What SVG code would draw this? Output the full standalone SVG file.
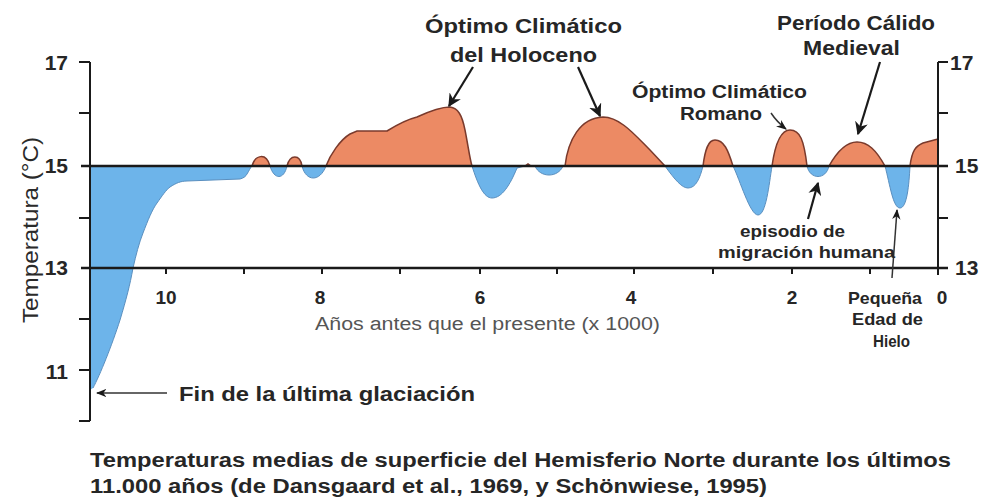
<svg xmlns="http://www.w3.org/2000/svg" width="988" height="500" viewBox="0 0 988 500">
<style>
.t{font-family:"Liberation Sans",Arial,sans-serif;font-weight:bold;fill:#262626}
.n{font-family:"Liberation Sans",Arial,sans-serif;fill:#555}
.ax{stroke:#1a1a1a;stroke-width:2;fill:none}
.hl{stroke:#1a1a1a;stroke-width:2.5;fill:none}
.ar{stroke:#1a1a1a;stroke-width:2.2;fill:none;marker-end:url(#ah)}
.ar1{stroke:#333;stroke-width:1.5;fill:none;marker-end:url(#ah2)}
</style>
<defs>
<marker id="ah" viewBox="0 0 10 10" refX="9" refY="5" markerWidth="6" markerHeight="6" orient="auto" markerUnits="strokeWidth">
<path d="M0,0 L10,5 L0,10 L3,5 Z" fill="#1a1a1a"/>
</marker>
<marker id="ah2" viewBox="0 0 10 10" refX="9" refY="5" markerWidth="7" markerHeight="7" orient="auto" markerUnits="strokeWidth">
<path d="M0,1 L10,5 L0,9 L3,5 Z" fill="#1a1a1a"/>
</marker>
<clipPath id="above"><rect x="0" y="0" width="988" height="166"/></clipPath>
<clipPath id="below"><rect x="0" y="166" width="988" height="334"/></clipPath>
<path id="area" d="M90,166 L90,390 L93,388 C100,375 112,345 120,320 C126,300 130,285 133,268 C136,255 139,243 143,233 C148,220 152,210 157,203 C162,196 166,190 170,187 C176,183 181,181 187,181 L240,179 C244,178 246,176 247,174 C249,171 250,168 252,166 C255,155 266,152 270,166 C274,180 284,180 287,166 C290,154 300,154 302,166 C306,182 320,182 326,166 C330,155 340,140 350,134 L357,131 L387,131 C395,126 405,120 417,117 C430,111 440,107 450,107 C458,108 462,115 465,130 C468,145 470,160 472,166 C478,185 484,198 492,198 C502,198 510,185 517,168 L525,166 L528,164 L531,166 L535,166 C540,178 558,178 563,166 L565,166 C568,140 580,118 603,117 C620,117 635,135 650,150 L665,166 C675,180 682,188 688,188 C696,188 700,178 703,166 C705,150 708,140 715,140 C724,140 728,150 733,166 C740,180 750,215 758,215 C766,215 769,185 772,166 C775,145 780,130 790,130 C800,130 804,140 807,166 C810,180 826,180 829,166 C838,150 848,142 857,142 C868,142 876,150 885,166 C890,185 893,208 900,208 C907,208 909,185 910,166 C912,150 916,146 923,143 L938,139 L938,166 Z"/>
<path id="curve" d="M93,388 C100,375 112,345 120,320 C126,300 130,285 133,268 C136,255 139,243 143,233 C148,220 152,210 157,203 C162,196 166,190 170,187 C176,183 181,181 187,181 L240,179 C244,178 246,176 247,174 C249,171 250,168 252,166 C255,155 266,152 270,166 C274,180 284,180 287,166 C290,154 300,154 302,166 C306,182 320,182 326,166 C330,155 340,140 350,134 L357,131 L387,131 C395,126 405,120 417,117 C430,111 440,107 450,107 C458,108 462,115 465,130 C468,145 470,160 472,166 C478,185 484,198 492,198 C502,198 510,185 517,168 L525,166 L528,164 L531,166 L535,166 C540,178 558,178 563,166 L565,166 C568,140 580,118 603,117 C620,117 635,135 650,150 L665,166 C675,180 682,188 688,188 C696,188 700,178 703,166 C705,150 708,140 715,140 C724,140 728,150 733,166 C740,180 750,215 758,215 C766,215 769,185 772,166 C775,145 780,130 790,130 C800,130 804,140 807,166 C810,180 826,180 829,166 C838,150 848,142 857,142 C868,142 876,150 885,166 C890,185 893,208 900,208 C907,208 909,185 910,166 C912,150 916,146 923,143 L938,139"/>
</defs>
<rect width="988" height="500" fill="#fff"/>

<g id="temperature-curve">
<use href="#area" fill="#EC8A64" clip-path="url(#above)"/>
<use href="#area" fill="#6DB4EA" clip-path="url(#below)"/>
<use href="#curve" fill="none" stroke="#7a3a2c" stroke-width="1.5" clip-path="url(#above)"/>
<use href="#curve" fill="none" stroke="#5a8fbf" stroke-width="1" clip-path="url(#below)"/>
</g>

<g id="axes">
<path class="ax" d="M90,62 V421 M79,62 H90 M79,113 H90 M79,218 H90 M79,319 H90 M79,370 H90 M79,421 H90"/>
<path class="ax" d="M938,62 V275 M938,62 H948 M938,113 H948 M938,218 H948"/>
<path class="hl" d="M81,166 H948 M81,268 H948"/>
<path class="ax" d="M166,268 v6 M244,268 v6 M322,268 v6 M400,268 v6 M480,268 v6 M557,268 v6 M634,268 v6 M713,268 v6 M792,268 v6 M870,268 v6"/>
</g>

<g id="axis-labels">
<text class="t" x="68" y="70" font-size="21" text-anchor="end">17</text>
<text class="t" x="68" y="173" font-size="21" text-anchor="end">15</text>
<text class="t" x="68" y="275" font-size="21" text-anchor="end">13</text>
<text class="t" x="68" y="379" font-size="21" text-anchor="end">11</text>
<text class="t" x="950" y="70" font-size="21">17</text>
<text class="t" x="955" y="173" font-size="21">15</text>
<text class="t" x="955" y="275" font-size="21">13</text>
<text class="t" x="166" y="304" font-size="19" text-anchor="middle">10</text>
<text class="t" x="320" y="304" font-size="19" text-anchor="middle">8</text>
<text class="t" x="480" y="304" font-size="19" text-anchor="middle">6</text>
<text class="t" x="631" y="304" font-size="19" text-anchor="middle">4</text>
<text class="t" x="792" y="304" font-size="19" text-anchor="middle">2</text>
<text class="t" x="942" y="304" font-size="19" text-anchor="middle">0</text>
<text class="n" x="315" y="330" font-size="18" textLength="345" lengthAdjust="spacingAndGlyphs">Años antes que el presente (x 1000)</text>
<text class="n" transform="translate(38,323) rotate(-90)" font-size="22" style="fill:#2a2a2a" textLength="186" lengthAdjust="spacingAndGlyphs">Temperatura (°C)</text>
</g>

<g id="connectors">
<path class="ar1" d="M167,393 H97"/>
<path class="ar" d="M473,67 L449,106"/>
<path class="ar" d="M578,67 L600,116"/>
<path class="ar1" d="M771,113 Q777,122 786,129"/>
<path class="ar" d="M880,62 L858,134"/>
<path class="ar" d="M808,219 L818,183"/>
<path class="ar1" d="M892,278 L897,210"/>
</g>

<g id="label-glaciacion">
<text class="t" x="179" y="401" font-size="20" textLength="296" lengthAdjust="spacingAndGlyphs">Fin de la última glaciación</text>
</g>
<g id="label-holoceno">
<text class="t" x="425" y="33" font-size="20" textLength="197" lengthAdjust="spacingAndGlyphs">Óptimo Climático</text>
<text class="t" x="450" y="62" font-size="20" textLength="147" lengthAdjust="spacingAndGlyphs">del Holoceno</text>
</g>
<g id="label-romano">
<text class="t" x="632" y="98" font-size="18" textLength="175" lengthAdjust="spacingAndGlyphs">Óptimo Climático</text>
<text class="t" x="680" y="120" font-size="18" textLength="82" lengthAdjust="spacingAndGlyphs">Romano</text>
</g>
<g id="label-medieval">
<text class="t" x="777" y="30" font-size="20" textLength="158" lengthAdjust="spacingAndGlyphs">Período Cálido</text>
<text class="t" x="803" y="55" font-size="20" textLength="97" lengthAdjust="spacingAndGlyphs">Medieval</text>
</g>
<g id="label-migracion">
<text class="t" x="740" y="237" font-size="17" textLength="105" lengthAdjust="spacingAndGlyphs">episodio de</text>
<text class="t" x="718" y="258" font-size="17" textLength="177" lengthAdjust="spacingAndGlyphs">migración humana</text>
</g>
<g id="label-hielo">
<text class="t" x="848" y="304" font-size="17" textLength="74" lengthAdjust="spacingAndGlyphs">Pequeña</text>
<text class="t" x="852" y="325" font-size="17" textLength="71" lengthAdjust="spacingAndGlyphs">Edad de</text>
<text class="t" x="873" y="347" font-size="17" textLength="37" lengthAdjust="spacingAndGlyphs">Hielo</text>
</g>
<g id="caption">
<text class="t" x="90" y="467" font-size="20" textLength="861" lengthAdjust="spacingAndGlyphs">Temperaturas medias de superficie del Hemisferio Norte durante los últimos</text>
<text class="t" x="90" y="493" font-size="20" textLength="677" lengthAdjust="spacingAndGlyphs">11.000 años (de Dansgaard et al., 1969, y Schönwiese, 1995)</text>
</g>
</svg>
